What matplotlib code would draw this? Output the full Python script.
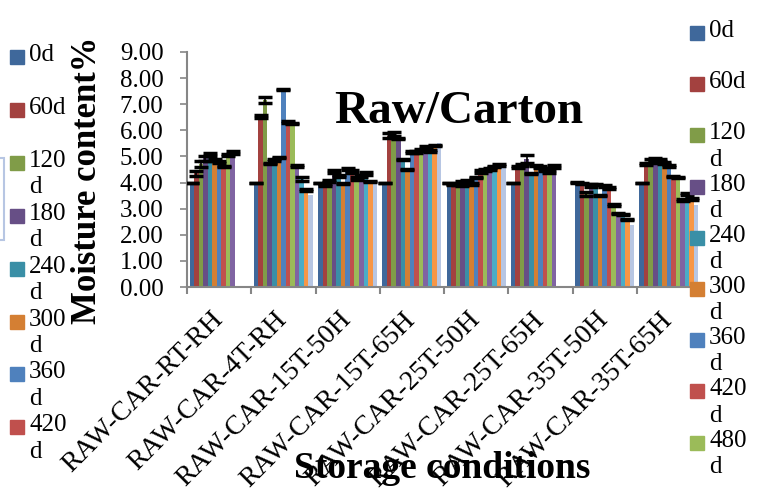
import numpy as np
import matplotlib
matplotlib.use('Agg')
import matplotlib.pyplot as plt
from matplotlib.patches import Rectangle

plt.rcParams['font.family'] = ['Liberation Serif', 'DejaVu Serif']

nan = np.nan

# storage conditions (x categories)
conditions = ['RAW-CAR-RT-RH', 'RAW-CAR-4T-RH', 'RAW-CAR-15T-50H', 'RAW-CAR-15T-65H',
              'RAW-CAR-25T-50H', 'RAW-CAR-25T-65H', 'RAW-CAR-35T-50H', 'RAW-CAR-35T-65H']
# storage days (series)
days = ['0d', '60d', '120d', '180d', '240d', '300d', '360d', '420d', '480d',
        '540d', '600d', '660d', '720d']
colors = ['#3F689B', '#A3413F', '#809C48', '#674F86', '#3A8FA6', '#D47F33',
          '#4F81BD', '#C0504D', '#9BBB59', '#8064A2', '#4BACC6', '#F79646', '#B7C6E3']

# moisture content (%) per condition, one value per storage day
rt_rh = [3.97, 4.35, 4.70, 4.93, 5.08, 4.87, 4.80, 4.61, 5.06, 5.15, nan, nan, nan]
t4_rh = [3.97, 6.53, 7.16, 4.73, 4.87, 4.96, 7.57, 6.33, 6.25, 4.64, 4.14, 3.73, 3.52]
t15_50 = [3.97, 3.91, 4.07, 4.42, 4.25, 3.97, 4.52, 4.42, 4.16, 4.25, 4.35, 4.05, 3.95]
t15_65 = [3.97, 5.80, 5.85, 5.67, 4.87, 4.50, 5.18, 5.16, 5.25, 5.34, 5.21, 5.43, 5.53]
t25_50 = [3.97, 3.93, 3.93, 3.97, 4.04, 3.95, 4.19, 4.43, 4.48, 4.52, 4.61, 4.67, 4.70]
t25_65 = [3.97, 4.59, 4.67, 4.89, 4.35, 4.65, 4.59, 4.51, 4.42, 4.61, nan, nan, nan]
t35_50 = [4.00, 3.97, 3.56, 3.88, 3.93, 3.52, 3.87, 3.80, 3.14, 2.82, 2.78, 2.59, 2.38]
t35_65 = [3.97, 4.70, 4.83, 4.90, 4.87, 4.75, 4.64, 4.25, 4.19, 3.33, 3.56, 3.37, 3.14]

# error bars
rt_rh_err = [0, 0.10, 0.12, 0.10, 0.06, 0.04, 0.04, 0.02, 0.04, 0.04, nan, nan, nan]
t4_rh_err = [0, 0.05, 0.12, 0.03, 0.03, 0.02, 0.03, 0.04, 0.02, 0.04, 0.08, 0.04, nan]
t15_50_err = [0, 0.03, 0.03, 0.05, 0.03, 0.02, 0.05, 0.05, 0.05, 0.05, 0.05, 0.02, nan]
t15_65_err = [0, 0.08, 0.08, 0.02, 0.02, 0.02, 0.03, 0.03, 0.05, 0.05, 0.03, 0.02, nan]
t25_50_err = [0, 0.02, 0.02, 0.10, 0.05, 0.05, 0.03, 0.05, 0.05, 0.05, 0.03, 0.03, nan]
t25_65_err = [0, 0.05, 0.03, 0.15, 0.02, 0.02, 0.03, 0.05, 0.05, 0.05, nan, nan, nan]
t35_50_err = [0.03, 0.03, 0.08, 0.05, 0.03, 0.02, 0.03, 0.03, 0.02, 0.02, 0.02, 0.02, nan]
t35_65_err = [0, 0.04, 0.08, 0.05, 0.03, 0.03, 0.03, 0.02, 0.02, 0.03, 0.05, 0.05, nan]

values = np.array([rt_rh, t4_rh, t15_50, t15_65, t25_50, t25_65, t35_50, t35_65])
errs = np.array([rt_rh_err, t4_rh_err, t15_50_err, t15_65_err,
                 t25_50_err, t25_65_err, t35_50_err, t35_65_err])

fig = plt.figure(figsize=(7.68, 5.04), dpi=100)
ax = fig.add_axes([187 / 768, 1 - 287 / 504, 514 / 768, 235 / 504])

x = np.arange(len(conditions))
n = len(days)
width = 0.92 / n
for i, d in enumerate(days):
    pos = x - 0.46 + width * (i + 0.5)
    ax.bar(pos, values[:, i], width, color=colors[i], linewidth=0, zorder=2)
    ax.errorbar(pos, values[:, i], yerr=errs[:, i], fmt='none', ecolor='black',
                elinewidth=1.2, capsize=5, capthick=2.5, zorder=3)

ax.set_xlim(-0.5, len(conditions) - 0.5)
ax.set_ylim(0, 9)
ax.set_yticks(np.arange(0, 9.01, 1))
ax.set_yticklabels(['%.2f' % v for v in np.arange(0, 9.01, 1)], fontsize=18)
ax.set_xticks(x)
ax.set_xticklabels(conditions, fontsize=20, rotation=45, ha='right',
                   rotation_mode='anchor', va='center')
ax.set_xticks(np.arange(-0.5, len(conditions)), minor=True)
ax.tick_params(axis='x', which='major', length=0, pad=21)
ax.tick_params(axis='x', which='minor', length=5, color='#868686', width=1.5, direction='out')
ax.tick_params(axis='y', length=5, color='#868686', width=1.2, pad=12)
for s in ['top', 'right']:
    ax.spines[s].set_visible(False)
for s in ['left', 'bottom']:
    ax.spines[s].set_color('#868686')
    ax.spines[s].set_linewidth(1.5)

fig.text(88 / 768, 1 - 180 / 504, 'Moisture content%', rotation=90, fontsize=25,
         fontweight='bold', ha='center', va='center')
fig.text(442 / 768, 1 - 469 / 504, 'Storage conditions', fontsize=27,
         fontweight='bold', ha='center', va='center')
fig.text(459 / 768, 1 - 112 / 504, 'Raw/Carton', fontsize=34,
         fontweight='bold', ha='center', va='center')


def draw_legend(x0, y0, step, count):
    # hand-drawn legend, labels wrap after the number like the original
    for i in range(count):
        y = y0 + step * i
        fig.patches.append(Rectangle((x0 / 768, 1 - (y + 7) / 504), 14 / 768, 14 / 504,
                                     transform=fig.transFigure, color=colors[i]))
        lab = days[i]
        txt = lab if len(lab) <= 3 else lab[:-1] + '\nd'
        fig.text((x0 + 19) / 768, 1 - (y - 13) / 504, txt, fontsize=18, va='top',
                 ha='left', linespacing=1.25)


draw_legend(10, 57, 52.9, 8)
draw_legend(690, 33, 51.2, 9)

# cut-off box at the left edge
fig.patches.append(Rectangle((-10 / 768, 1 - 240 / 504), 14 / 768, 82 / 504,
                             transform=fig.transFigure, fill=False,
                             edgecolor='#B7C6E3', linewidth=1.5))

fig.savefig('out.png', dpi=100)
